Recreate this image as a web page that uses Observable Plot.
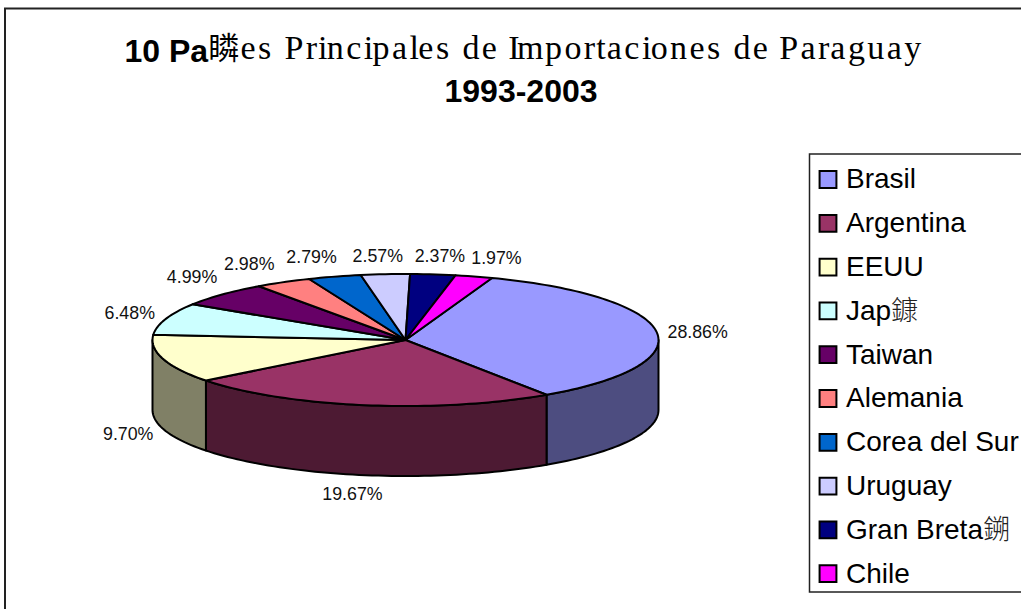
<!DOCTYPE html>
<html>
<head>
<meta charset="utf-8">
<script src="https://cdn.jsdelivr.net/npm/d3@7"></script>
<script src="https://cdn.jsdelivr.net/npm/@observablehq/plot@0.6"></script>
<style>html,body{margin:0;padding:0;background:#fff;overflow:hidden}svg{display:block}</style>
</head>
<body>
<div id="chart"></div>
<script>
const names = ["Brasil","Argentina","EEUU","Jap鏮","Taiwan","Alemania","Corea del Sur","Uruguay","Gran Breta鎙","Chile"];
const values = [28.86,19.67,9.70,6.48,4.99,2.98,2.79,2.57,2.37,1.97];
const colors = ["#9999FF","#993366","#FFFFCC","#CCFFFF","#660066","#FF8080","#0066CC","#CCCCFF","#000080","#FF00FF"];
const sideColors = ["#4D4D80","#4D1A33","#808066","#668080","#330033","#804040","#003366","#666680","#000040","#800080"];
const titleLine1 = ["10 Pa","瞵","es Principales de Importaciones de Paraguay"];
const titleLine2 = "1993-2003";

const W = 1021, H = 609;
const pie = {cx:405, cy:339.5, rx:253, ry:66, depth:70, start:20};
const labelNudgeX = [41,-13,-35,-36,-30.5,-34,-23,-7.5,7,22.5];
const labelNudgeY = [0,19,5,-6,-17,-18,-19,-18,-18,-18];
const legendBox = {x:809.5, y:154, rowY:179, rowH:43.8, swatchX:827.5, textX:845.5};

const rad = d => d*Math.PI/180;
const total = d3.sum(values);
const px = a => pie.cx + pie.rx*Math.sin(rad(a));
const py = a => pie.cy - pie.ry*Math.cos(rad(a));

// Slice angle ranges derive from the values
let acc = pie.start;
const slices = names.map((name,i)=>{
  const a0 = acc, a1 = acc + values[i]/total*360; acc = a1;
  return {name, value:values[i], color:colors[i], side:sideColors[i], a0, a1, mid:(a0+a1)/2, i};
});
const arc = (a0,a1) => { const n=Math.max(2,Math.ceil((a1-a0)/1.5)); return d3.range(n+1).map(k=>a0+(a1-a0)*k/n); };

const topPts = slices.flatMap(s=>{
  const ring=[{x:pie.cx,y:pie.cy},...arc(s.a0,s.a1).map(a=>({x:px(a),y:py(a)})),{x:pie.cx,y:pie.cy}];
  return ring.map(p=>({...p,name:s.name,fill:s.color}));
});
const sidePts = slices.flatMap(s=>{
  const lo=Math.max(s.a0,90), hi=Math.min(s.a1,270);
  if(hi<=lo) return [];
  const as=arc(lo,hi);
  const ring=[...as.map(a=>({x:px(a),y:py(a)})),...as.slice().reverse().map(a=>({x:px(a),y:py(a)+pie.depth}))];
  ring.push(ring[0]);
  return ring.map(p=>({...p,name:s.name,fill:s.side}));
});
const labelRows = slices.map(s=>{
  const norm=((s.mid%360)+360)%360;
  const front=norm>90&&norm<270;
  return {x:px(s.mid)+labelNudgeX[s.i], y:py(s.mid)+(front?pie.depth:0)+labelNudgeY[s.i], text:s.value.toFixed(2)+"%"};
});
const legendRows = slices.map(s=>({name:s.name,color:s.color,y:legendBox.rowY+s.i*legendBox.rowH}));

const sansBold='bold 32px "Liberation Sans"';
const serif='"Liberation Serif"';
const cjk='"Noto Sans CJK TC"';
const svg = Plot.plot({
  width:W, height:H, margin:0,
  style:{background:"#fff",fontFamily:'"Liberation Sans",Arial,sans-serif',color:"#000"},
  x:{domain:[0,W],range:[0,W],axis:null},
  y:{domain:[0,H],range:[0,H],axis:null},
  marks:[
    Plot.rect([{x1:5,x2:W+10,y1:8.5,y2:H+10}],{x1:"x1",x2:"x2",y1:"y1",y2:"y2",fill:"none",stroke:"#222",strokeWidth:2}),
    Plot.line(sidePts,{x:"x",y:"y",z:"name",fill:"fill",stroke:"#000",strokeWidth:2,strokeLinejoin:"round"}),
    Plot.line(topPts,{x:"x",y:"y",z:"name",fill:"fill",stroke:"#000",strokeWidth:2,strokeLinejoin:"round"}),
    Plot.text(labelRows,{x:"x",y:"y",text:"text",fontSize:17.8,fill:"#111"}),
    Plot.text([titleLine1.join("")],{x:()=>124,y:()=>51,text:d=>d,textAnchor:"start",className:"t1",fontSize:32,fontWeight:"bold",fill:"#000"}),
    Plot.text([titleLine2],{x:()=>520.5,y:()=>91,text:d=>d,fontSize:32,fontWeight:"bold",fill:"#000"}),
    Plot.rect([{x1:legendBox.x,x2:W+10,y1:legendBox.y,y2:592}],{x1:"x1",x2:"x2",y1:"y1",y2:"y2",fill:"#fff",stroke:"#222",strokeWidth:1.5}),
    Plot.dot(legendRows,{x:()=>legendBox.swatchX,y:"y",symbol:"square",r:9.5,fill:"color",stroke:"#000",strokeWidth:2}),
    Plot.text(legendRows,{x:()=>legendBox.textX,y:"y",text:"name",textAnchor:"start",className:"lg",fontSize:28,fill:"#000"})
  ]
});
document.getElementById("chart").append(svg);

// Rebuild title line 1 as one text element with its mixed fonts
const ctx=document.createElement("canvas").getContext("2d");
ctx.font=sansBold;
const ns="http://www.w3.org/2000/svg";
const span=(txt,attrs={})=>{const s=document.createElementNS(ns,"tspan");s.textContent=txt;for(const k in attrs)s.setAttribute(k,attrs[k]);return s;};
const t=svg.querySelector(".t1 text");
t.textContent="";
t.append(span(titleLine1[0]));
t.append(span(titleLine1[1],{"font-family":cjk,"font-weight":"normal","font-size":"31",dy:"-2.5"}));
const x0=124, scaleAdv=0.99;
let pos=240-x0; const xs=[];
for(const ch of titleLine1[2]){xs.push(pos.toFixed(1)); pos+=ctx.measureText(ch).width*scaleAdv;}
t.append(span(titleLine1[2],{x:xs.join(" "),"font-family":serif,"font-weight":"normal","font-size":"34"}));

// The last glyph of two legend names is a lighter CJK character
svg.querySelectorAll(".lg text").forEach(el=>{
  const s=el.textContent, last=s[s.length-1];
  if(last.charCodeAt(0)>0x2000){
    el.textContent=s.slice(0,-1);
    el.append(span(last,{"font-family":cjk,"font-weight":"300",fill:"#222","font-size":"27"}));
  }
});
</script>
</body>
</html>
